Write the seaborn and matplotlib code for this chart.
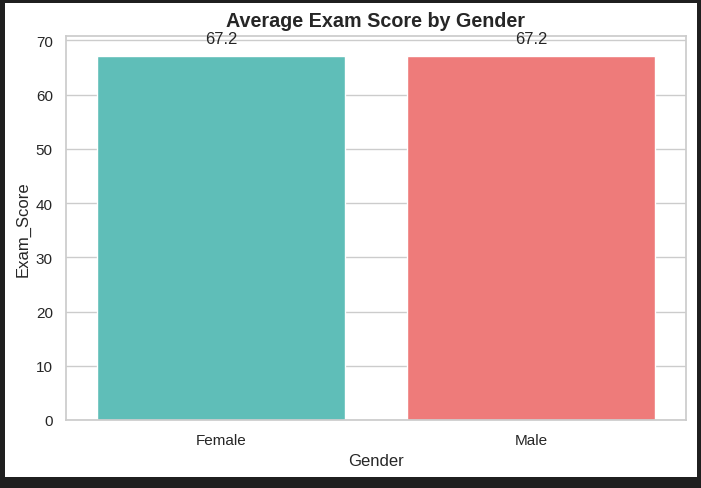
import matplotlib
matplotlib.use("Agg")
import matplotlib.pyplot as plt
import seaborn as sns
import pandas as pd
from matplotlib.patches import Rectangle

# Данные
genders = ["Female", "Male"]
avg_scores = [67.2, 67.2]
bar_colors = ["#5FBEB8", "#EE7B7A"]

df = pd.DataFrame({"Gender": genders, "Exam_Score": avg_scores})

sns.set_theme(style="whitegrid")
plt.rcParams['font.family'] = ['Liberation Sans', 'DejaVu Sans']

fig = plt.figure(figsize=(7.01, 4.89), dpi=100, facecolor="#1f1f1f")
# белая подложка как на скриншоте
fig.patches.append(Rectangle((5 / 701, 1 - 478 / 489), 692 / 701, 474 / 489,
                             transform=fig.transFigure, facecolor="white",
                             edgecolor="none", zorder=-10))
ax = fig.add_axes([66 / 701, 1 - 421 / 489, 620 / 701, 384 / 489])

sns.barplot(data=df, x="Gender", y="Exam_Score", hue="Gender",
            palette=bar_colors, legend=False, ax=ax, saturation=1)
ax.set_ylim(0, 70.8)

for p in ax.patches:
    h = p.get_height()
    ax.annotate(f"{h:.1f}", (p.get_x() + p.get_width() / 2., h),
                ha="center", va="bottom", xytext=(0, 7),
                textcoords="offset points", fontsize=12, color="#262626")

ax.set_title("Average Exam Score by Gender", fontsize=14.2, fontweight="bold",
             color="#262626", pad=7)
ax.set_xlabel("Gender", fontsize=12)
ax.set_ylabel("Exam_Score", fontsize=12)
ax.tick_params(labelsize=11)

fig.savefig("out.png", dpi=100, facecolor=fig.get_facecolor())
